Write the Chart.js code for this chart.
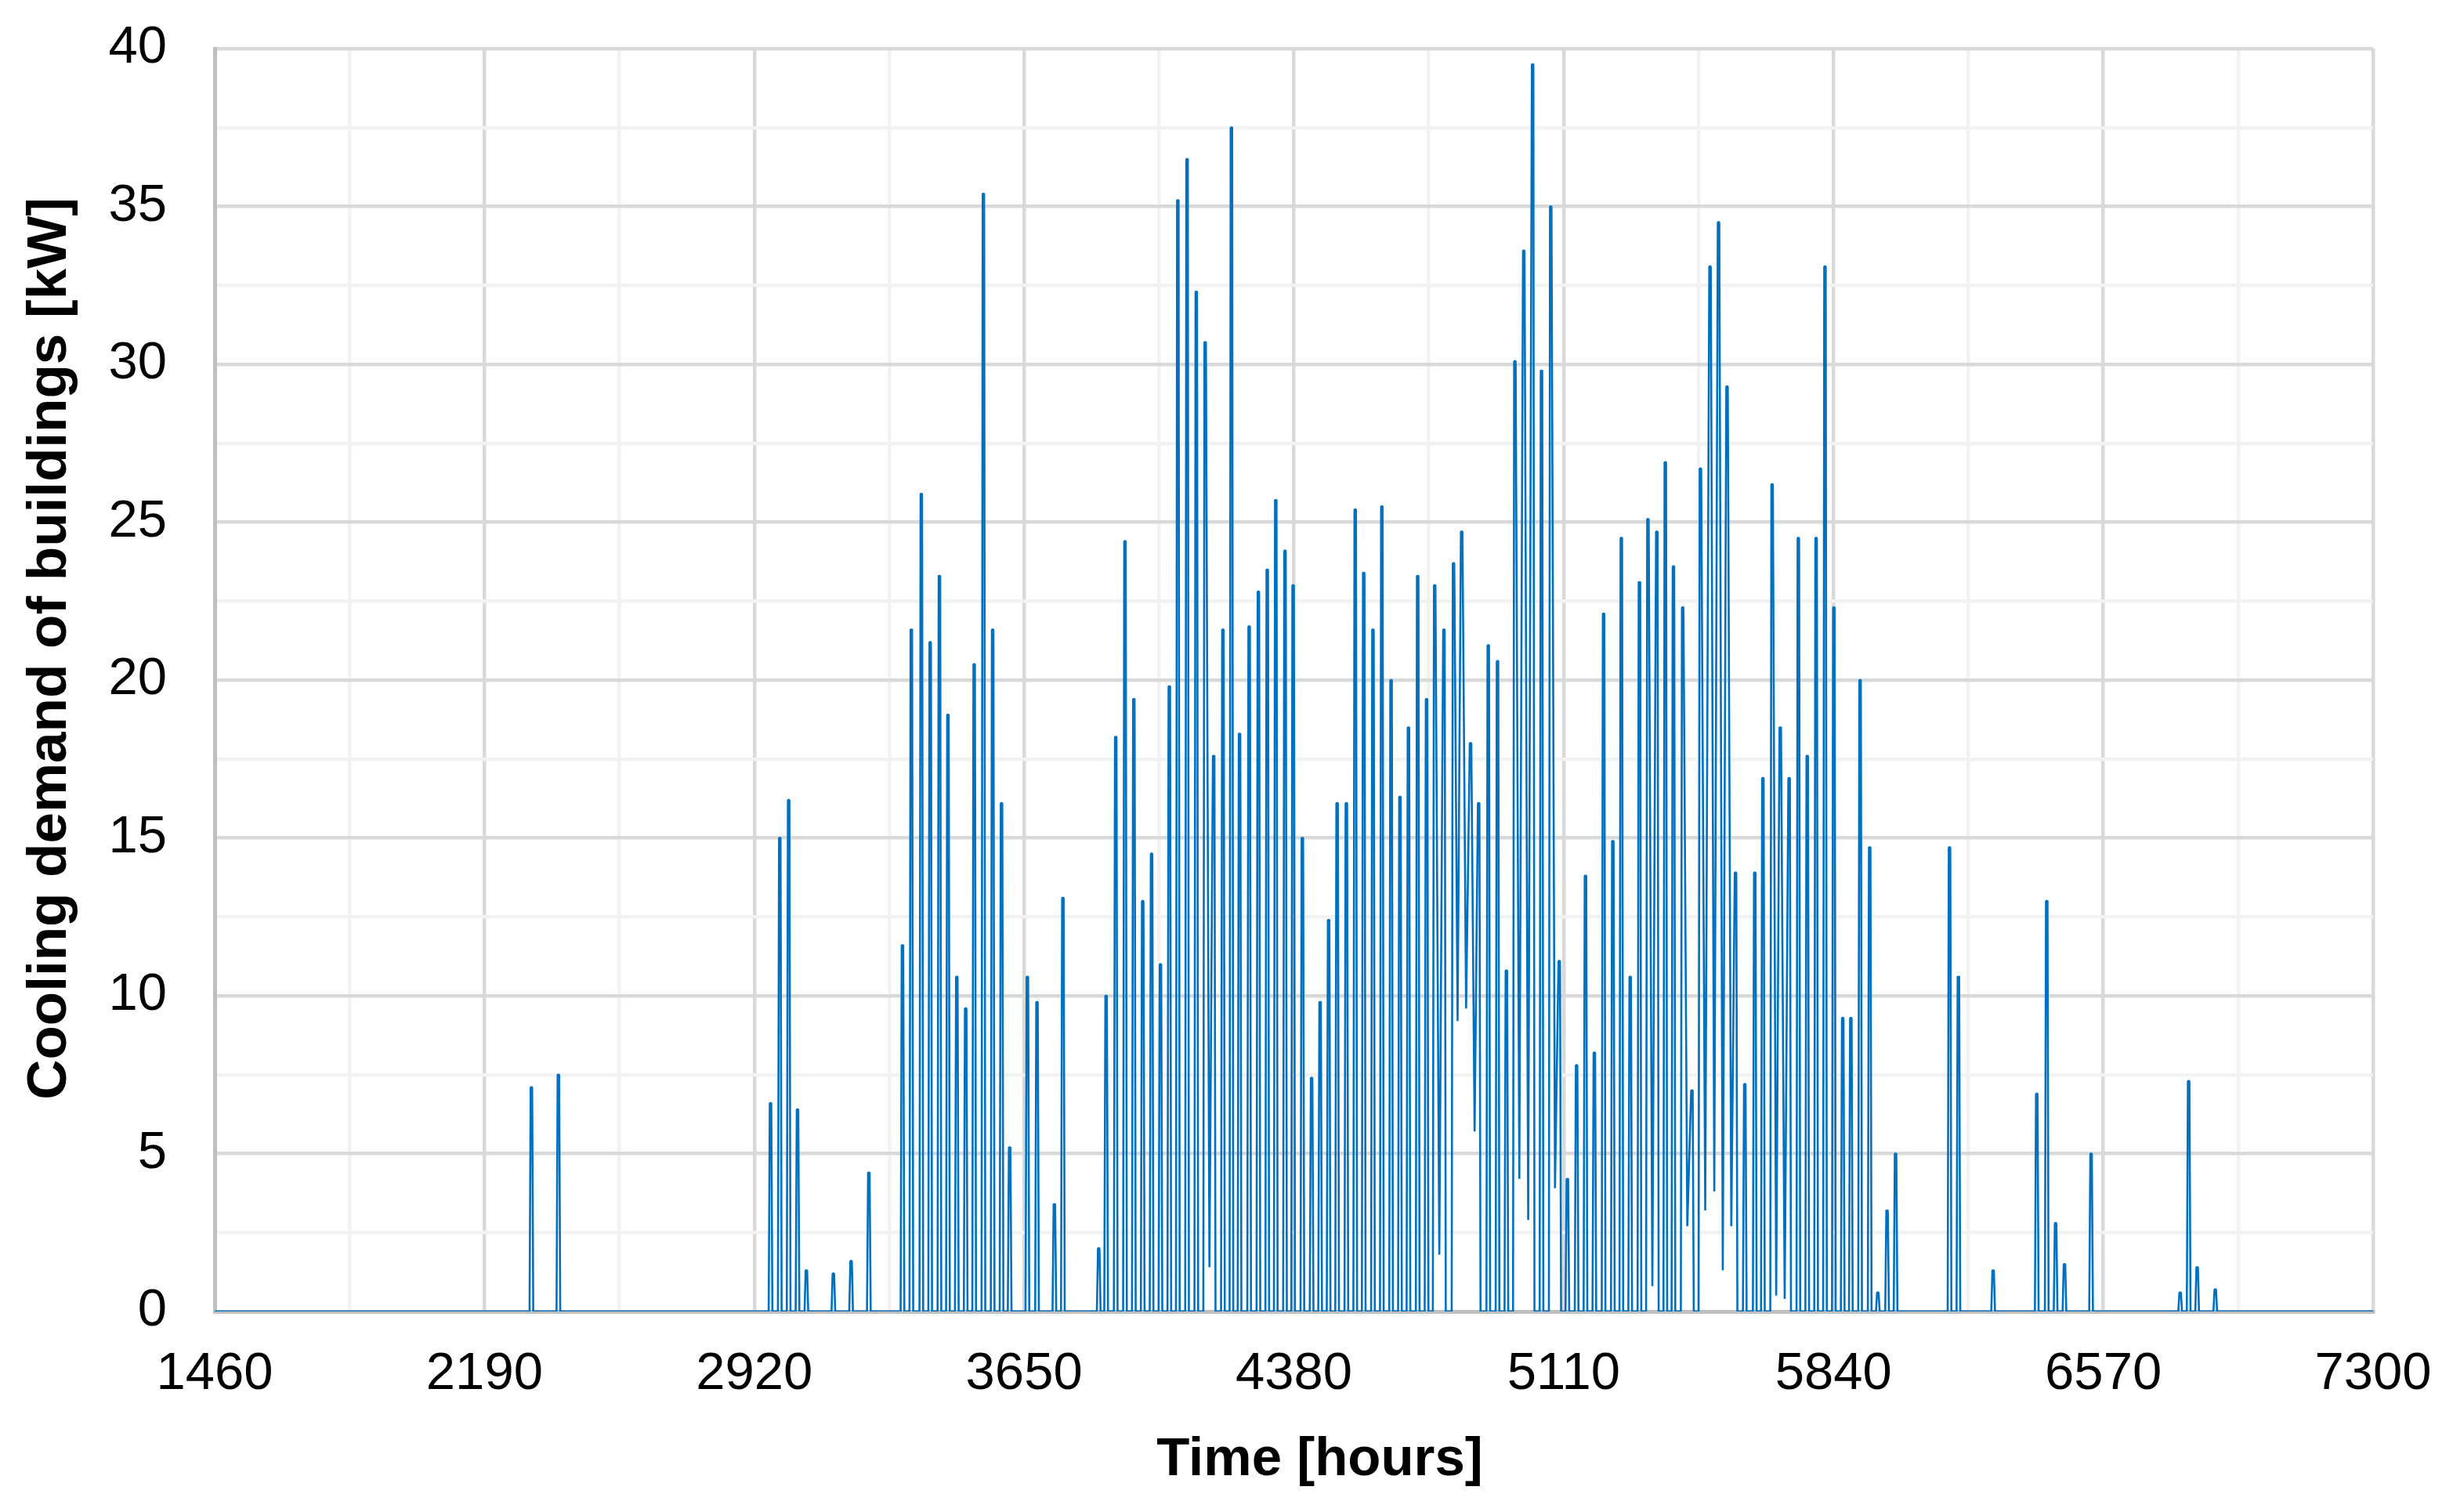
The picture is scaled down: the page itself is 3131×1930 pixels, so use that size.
<!DOCTYPE html>
<html>
<head>
<meta charset="utf-8">
<title>Cooling demand of buildings</title>
<script src="https://cdn.jsdelivr.net/npm/chart.js@4.4.1/dist/chart.umd.min.js"></script>
<style>
  body { margin: 0; background: #fff; }
</style>
</head>
<body>
<canvas id="myChart" width="3131" height="1930"></canvas>
<script>
// Daily peaks: hour of the peak and its value [kW]
const peakHours = [
  2317, 2390, 2964, 2989, 3013, 3037, 3061, 3134, 3182, 3230,
  3321, 3345, 3372, 3396, 3421, 3444, 3468, 3492, 3515, 3540,
  3565, 3589, 3611, 3659, 3685, 3732, 3755, 3852, 3872, 3898,
  3923, 3947, 3971, 3995, 4019, 4043, 4066, 4091, 4116, 4140,
  4163, 4188, 4211, 4233, 4259, 4284, 4308, 4331, 4356, 4378,
  4403, 4428, 4451, 4474, 4497, 4522, 4546, 4569, 4594, 4618,
  4643, 4667, 4690, 4715, 4739, 4761, 4786, 4812, 4834, 4858,
  4880, 4906, 4931, 4955, 4978, 5002, 5026, 5050, 5075, 5098,
  5120, 5145, 5169, 5193, 5218, 5243, 5266, 5290, 5315, 5338,
  5362, 5385, 5407, 5432, 5457, 5480, 5506, 5529, 5552, 5575,
  5600, 5627, 5649, 5674, 5696, 5720, 5745, 5769, 5793, 5817,
  5841, 5865, 5887, 5912, 5938, 5960, 5985, 6008, 6154, 6178,
  6272, 6390, 6417, 6441, 6465, 6537, 6778, 6801, 6824, 6873
];
const peakValues = [
  7.1, 7.5, 6.6, 15.0, 16.2, 6.4, 1.3, 1.2, 1.6, 4.4,
  11.6, 21.6, 25.9, 21.2, 23.3, 18.9, 10.6, 9.6, 20.5, 35.4,
  21.6, 16.1, 5.2, 10.6, 9.8, 3.4, 13.1, 2.0, 10.0, 18.2,
  24.4, 19.4, 13.0, 14.5, 11.0, 19.8, 35.2, 36.5, 32.3, 30.7,
  17.6, 21.6, 37.5, 18.3, 21.7, 22.8, 23.5, 25.7, 24.1, 23.0,
  15.0, 7.4, 9.8, 12.4, 16.1, 16.1, 25.4, 23.4, 21.6, 25.5,
  20.0, 16.3, 18.5, 23.3, 19.4, 23.0, 21.6, 23.7, 24.7, 18.0,
  16.1, 21.1, 20.6, 10.8, 30.1, 33.6, 39.5, 29.8, 35.0, 11.1,
  4.2, 7.8, 13.8, 8.2, 22.1, 14.9, 24.5, 10.6, 23.1, 25.1,
  24.7, 26.9, 23.6, 22.3, 7.0, 26.7, 33.1, 34.5, 29.3, 13.9,
  7.2, 13.9, 16.9, 26.2, 18.5, 16.9, 24.5, 17.6, 24.5, 33.1,
  22.3, 9.3, 9.3, 20.0, 14.7, 0.6, 3.2, 5.0, 14.7, 10.6,
  1.3, 6.9, 13.0, 2.8, 1.5, 5.0, 0.6, 7.3, 1.4, 0.7
];
// Lowest value in the night after each peak (0 = back to zero)
const nightLows = [
  0, 0, 0, 0, 0, 0, 0, 0, 0, 0,
  0, 0, 0, 0, 0, 0, 0, 0, 0, 0,
  0, 0, 0, 0, 0, 0, 0, 0, 0, 0,
  0, 0, 0, 0, 0, 0, 0, 0, 0, 1.4,
  0, 0, 0, 0, 0, 0, 0, 0, 0, 0,
  0, 0, 0, 0, 0, 0, 0, 0, 0, 0,
  0, 0, 0, 0, 0, 1.8, 0, 9.2, 9.6, 5.7,
  0, 0, 0, 0, 4.2, 2.9, 0, 0, 3.9, 0,
  0, 0, 0, 0, 0, 0, 0, 0, 0, 0.8,
  0, 0, 0, 2.7, 0, 3.2, 3.8, 1.3, 2.7, 0,
  0, 0, 0, 0.5, 0.4, 0, 0, 0, 0, 0,
  0, 0, 0, 0, 0, 0, 0, 0, 0, 0,
  0, 0, 0, 0, 0, 0, 0, 0, 0, 0
];

const xTickLabels = [1460, 2190, 2920, 3650, 4380, 5110, 5840, 6570, 7300];
const yTickLabels = [0, 5, 10, 15, 20, 25, 30, 35, 40];

// Build the hourly line: zero between pulses, one flat-topped pulse per day
const points = [{ x: xTickLabels[0], y: 0 }];
peakHours.forEach((h, i) => {
  const before = i > 0 ? nightLows[i - 1] : 0;
  if (before === 0) points.push({ x: h - 5, y: 0 });
  points.push({ x: h - 2, y: peakValues[i] });
  points.push({ x: h + 2, y: peakValues[i] });
  if (nightLows[i] > 0) {
    points.push({ x: (h + peakHours[i + 1]) / 2, y: nightLows[i] });
  } else {
    points.push({ x: h + 5, y: 0 });
  }
});
points.push({ x: xTickLabels[xTickLabels.length - 1], y: 0 });

const fontFamily = "'Liberation Sans', Arial, sans-serif";
Chart.defaults.font.family = fontFamily;
Chart.defaults.color = '#000';

// Axis titles, placed like the original (slightly off the plot centre)
const axisTitles = {
  id: 'axisTitles',
  afterDraw(chart) {
    const { ctx, chartArea } = chart;
    ctx.save();
    ctx.fillStyle = '#000';
    ctx.textAlign = 'center';
    ctx.textBaseline = 'middle';
    ctx.font = 'bold 69px ' + fontFamily;
    ctx.fillText('Time [hours]', (chartArea.left + chartArea.right) / 2 + 33, 1864);
    ctx.font = 'bold 71px ' + fontFamily;
    ctx.translate(64, (chartArea.top + chartArea.bottom) / 2 - 40);
    ctx.rotate(-Math.PI / 2);
    ctx.fillText('Cooling demand of buildings [kW]', 0, 0);
    ctx.restore();
  }
};

const config = {
  type: 'line',
  data: {
    datasets: [{
      data: points,
      borderColor: '#0070c0',
      borderWidth: 2.6,
      borderJoinStyle: 'bevel',
      pointRadius: 0,
      tension: 0,
      fill: false
    }]
  },
  options: {
    responsive: false,
    animation: false,
    layout: { padding: { top: 62, right: 102, bottom: 0, left: 0 } },
    plugins: {
      legend: { display: false },
      tooltip: { enabled: false }
    },
    scales: {
      x: {
        type: 'linear',
        min: 1460,
        max: 7300,
        afterFit: scale => {
          scale.height = 256;
          scale.paddingLeft = 0;
          scale.paddingRight = 0;
        },
        ticks: {
          stepSize: 365,
          autoSkip: false,
          maxRotation: 0,
          padding: 40,
          font: { size: 67 },
          callback: v => xTickLabels.includes(v) ? String(v) : ''
        },
        grid: {
          color: ctx => xTickLabels.includes(ctx.tick.value) ? '#d9d9d9' : '#f2f2f2',
          lineWidth: 4.5,
          drawTicks: false
        },
        border: { color: '#bfbfbf', width: 5 }
      },
      y: {
        min: 0,
        max: 40,
        afterFit: scale => {
          scale.width = 274;
          scale.paddingTop = 0;
          scale.paddingBottom = 0;
        },
        ticks: {
          stepSize: 2.5,
          padding: 61,
          font: { size: 67 },
          callback: v => yTickLabels.includes(v) ? String(v) : ''
        },
        grid: {
          color: ctx => yTickLabels.includes(ctx.tick.value) ? '#d9d9d9' : '#f2f2f2',
          lineWidth: 4.5,
          drawTicks: false
        },
        border: { color: '#bfbfbf', width: 5 }
      }
    }
  },
  plugins: [axisTitles]
};

const ctx = document.getElementById('myChart').getContext('2d');
const myChart = new Chart(ctx, config);
</script>
</body>
</html>
